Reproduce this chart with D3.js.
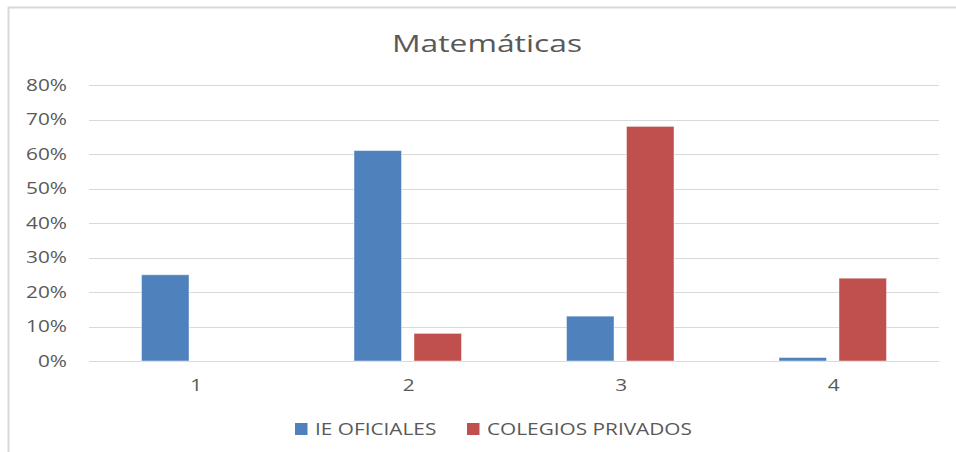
<!DOCTYPE html>
<html>
<head>
<meta charset="utf-8">
<script src="https://cdn.jsdelivr.net/npm/d3@7"></script>
<style>
  body { margin: 0; background: #fff; }
  text { font-family: "Open Sans", "Noto Sans", sans-serif; fill: #595959; }
</style>
</head>
<body>
<div id="chart"></div>
<script>
// chart data
var categories = ["1", "2", "3", "4"];
var seriesNames = ["IE OFICIALES", "COLEGIOS PRIVADOS"];
var oficiales = [0.25, 0.61, 0.13, 0.01];
var privados = [0, 0.08, 0.68, 0.24];
var yTicks = [0, 0.1, 0.2, 0.3, 0.4, 0.5, 0.6, 0.7, 0.8];
var colors = ["#4F81BD", "#C0504D"];

var width = 956, height = 452;
var margin = { top: 85, right: 17, bottom: 91, left: 89 };
// the screenshot text is stretched sideways
var stretch = 1.3;

var svg = d3.select("#chart").append("svg")
  .attr("width", width)
  .attr("height", height);

// outer frame (cropped screenshot: only top and left edges visible)
svg.append("line").attr("x1", 8).attr("x2", width).attr("y1", 7.5).attr("y2", 7.5)
  .attr("stroke", "#D9D9D9").attr("stroke-width", 2);
svg.append("line").attr("x1", 8.5).attr("x2", 8.5).attr("y1", 7).attr("y2", height)
  .attr("stroke", "#D9D9D9").attr("stroke-width", 2);

/**
 * text placed at (px, py) and stretched horizontally around that point
 */
function stretchedText(parent, px, py, str, size, anchor) {
  return parent.append("g")
    .attr("transform", "translate(" + px + "," + py + ") scale(" + stretch + ",1)")
    .append("text")
    .attr("text-anchor", anchor)
    .style("font-size", size + "px")
    .text(str);
}

var x = d3.scaleBand()
  .domain(categories)
  .range([margin.left, width - margin.right])
  .paddingInner(0)
  .paddingOuter(0);

var x1 = d3.scaleBand()
  .domain(seriesNames)
  .range([0, x.bandwidth()])
  .paddingInner(0.208)
  .paddingOuter(0.875);

var y = d3.scaleLinear()
  .domain([0, 0.8])
  .range([height - margin.bottom, margin.top]);

// gridlines
svg.append("g")
  .selectAll("line")
  .data(yTicks)
  .enter().append("line")
  .attr("x1", margin.left)
  .attr("x2", width - margin.right)
  .attr("y1", function (d) { return Math.round(y(d)) + 0.5; })
  .attr("y2", function (d) { return Math.round(y(d)) + 0.5; })
  .attr("stroke", "#D9D9D9")
  .attr("stroke-width", 1.2);

// y axis labels
var fmt = d3.format(".0%");
var yG = svg.append("g");
yTicks.forEach(function (t) {
  stretchedText(yG, 67, y(t), fmt(t), 16, "end").attr("dy", "0.35em");
});

// x axis labels
var xG = svg.append("g");
categories.forEach(function (c) {
  stretchedText(xG, x(c) + x.bandwidth() / 2 + 1, 391, c, 16, "middle");
});

// bars
var rows = categories.map(function (c, i) {
  return { cat: c, values: [oficiales[i], privados[i]] };
});

var groups = svg.append("g")
  .selectAll("g")
  .data(rows)
  .enter().append("g")
  .attr("transform", function (d) { return "translate(" + x(d.cat) + ",0)"; });

groups.selectAll("rect")
  .data(function (d) {
    return d.values.map(function (v, j) { return { name: seriesNames[j], value: v, color: colors[j] }; });
  })
  .enter().append("rect")
  .filter(function (d) { return d.value > 0; })
  .attr("x", function (d) { return x1(d.name); })
  .attr("y", function (d) { return y(d.value); })
  .attr("width", x1.bandwidth())
  .attr("height", function (d) { return y(0) - y(d.value); })
  .attr("fill", function (d) { return d.color; })
  .attr("stroke", "rgba(255,255,255,0.45)")
  .attr("stroke-width", 1);

// title
stretchedText(svg, 487, 52, "Matemáticas", 24.5, "middle");

// legend
var legendX = [295, 467];
var legend = svg.append("g");
seriesNames.forEach(function (name, i) {
  legend.append("rect")
    .attr("x", legendX[i])
    .attr("y", 423)
    .attr("width", 12.5)
    .attr("height", 12)
    .attr("fill", colors[i]);
  stretchedText(legend, legendX[i] + 20, 435, name, 16, "start");
});
</script>
</body>
</html>
